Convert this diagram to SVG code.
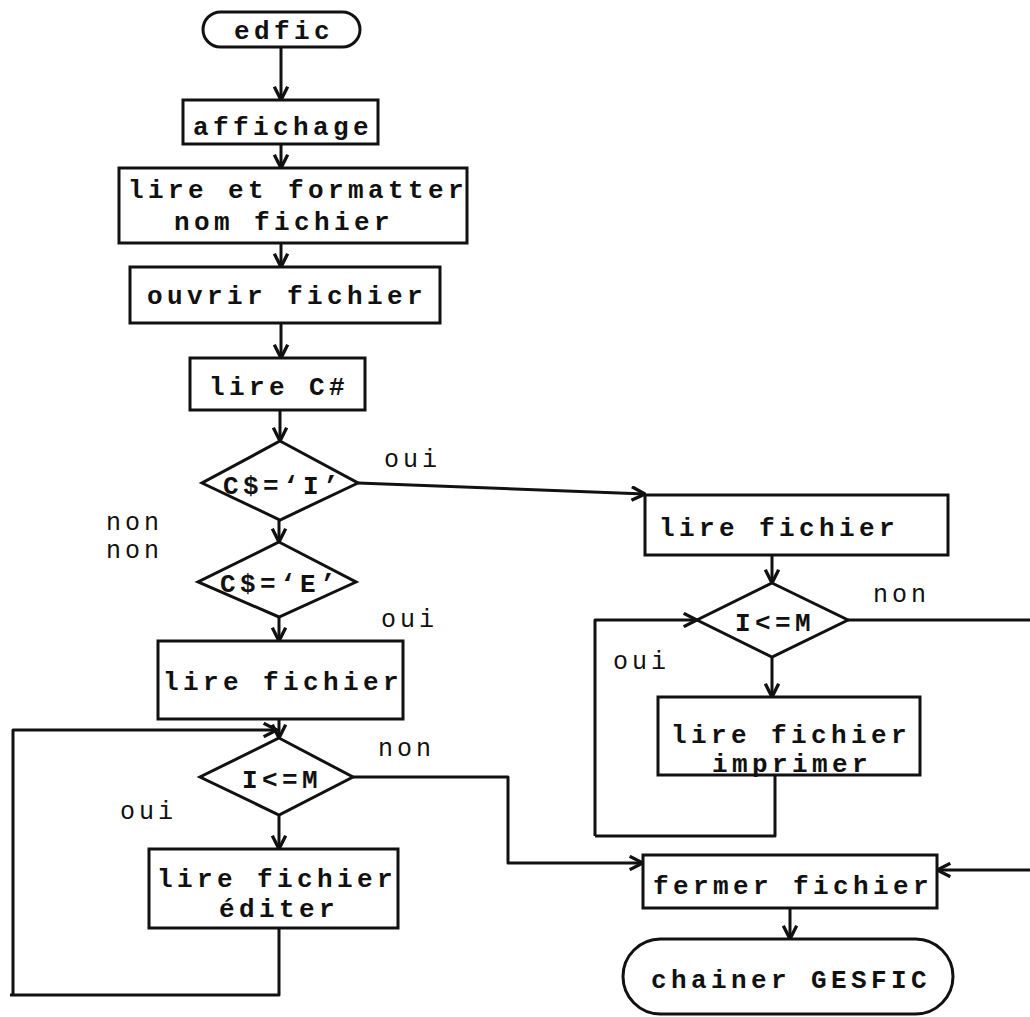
<svg xmlns="http://www.w3.org/2000/svg" width="1030" height="1017" viewBox="0 0 1030 1017">
  <style>
    .box { fill: #fff; stroke: #111; stroke-width: 3; }
    .ln { fill: none; stroke: #111; stroke-width: 3; stroke-linejoin: round; }
    .arr { marker-end: url(#head); }
    .t { font-family: "Liberation Mono", "DejaVu Sans Mono", monospace; font-size: 26px; font-weight: bold; fill: #111; letter-spacing: 4.4px; text-anchor: middle; }
    .lbl { font-family: "Liberation Mono", "DejaVu Sans Mono", monospace; font-size: 25px; fill: #111; letter-spacing: 4px; }
  </style>
  <defs>
    <marker id="head" markerUnits="userSpaceOnUse" markerWidth="16" markerHeight="16" viewBox="0 0 12 12" refX="11" refY="6" orient="auto">
      <path d="M1,1 L11,6 L1,11" fill="none" stroke="#111" stroke-width="2.5"/>
    </marker>
  </defs>
  <rect width="1030" height="1017" fill="#fff"/>

  <!-- connectors -->
  <g id="connectors">
    <path class="ln arr" d="M281,47 V100"/>
    <path class="ln arr" d="M281,144 V168"/>
    <path class="ln arr" d="M281,243 V267"/>
    <path class="ln arr" d="M281,323 V358"/>
    <path class="ln arr" d="M280,410 V441"/>
    <path class="ln arr" d="M279,520 V542"/>
    <path class="ln arr" d="M279,617 V641"/>
    <path class="ln arr" d="M279,719 V738"/>
    <path class="ln arr" d="M279,815 V849"/>
    <!-- left loop back to I<=M -->
    <path class="ln" d="M279,928 V995 H10"/>
    <path class="ln arr" d="M13,995 V730 H277"/>
    <!-- exit of left loop to fermer fichier -->
    <path class="ln arr" d="M353,777 H508 V863 H643"/>
    <!-- oui branch of C$='I' -->
    <path class="ln arr" d="M358,483 L645,494"/>
    <path class="ln arr" d="M772,555 V583"/>
    <path class="ln arr" d="M772,657 V697"/>
    <!-- right loop back to I<=M -->
    <path class="ln" d="M775,775 V836 H595"/>
    <path class="ln arr" d="M595,836 V620 H697"/>
    <!-- non branch of right I<=M, leaves the sheet -->
    <path class="ln" d="M848,620 H1030"/>
    <path class="ln arr" d="M1030,870 H937"/>
    <path class="ln arr" d="M790,908 V939"/>
  </g>

  <g id="n-edfic">
    <rect class="box" x="203" y="12" width="157" height="35" rx="17.5"/>
    <text class="t" x="284" y="39">edfic</text>
  </g>
  <g id="n-affichage">
    <rect class="box" x="183" y="100" width="195" height="44"/>
    <text class="t" x="283" y="135">affichage</text>
  </g>
  <g id="n-lire-formatter">
    <rect class="box" x="119" y="168" width="348" height="75"/>
    <text class="t" x="298" y="198">lire et formatter</text>
    <text class="t" x="284" y="230">nom fichier</text>
  </g>
  <g id="n-ouvrir">
    <rect class="box" x="130" y="267" width="310" height="56"/>
    <text class="t" x="287" y="304">ouvrir fichier</text>
  </g>
  <g id="n-lire-c">
    <rect class="box" x="190" y="358" width="175" height="52"/>
    <text class="t" x="279" y="395">lire C#</text>
  </g>
  <g id="n-test-i">
    <polygon class="box" points="280,441 358,483 280,520 202,483"/>
    <text class="t" x="283" y="494">C$=‘I’</text>
  </g>
  <g id="n-test-e">
    <polygon class="box" points="279,542 356,582 279,617 198,582"/>
    <text class="t" x="280" y="592">C$=‘E’</text>
  </g>
  <g id="n-lire-fichier-e">
    <rect class="box" x="158" y="641" width="245" height="78"/>
    <text class="t" x="283" y="690">lire fichier</text>
  </g>
  <g id="n-boucle-e">
    <polygon class="box" points="279,738 353,777 279,815 200,777"/>
    <text class="t" x="282" y="788">I&lt;=M</text>
  </g>
  <g id="n-editer">
    <rect class="box" x="149" y="849" width="249" height="79"/>
    <text class="t" x="277" y="887">lire fichier</text>
    <text class="t" x="279" y="917">éditer</text>
  </g>
  <g id="n-lire-fichier-i">
    <rect class="box" x="645" y="495" width="303" height="60"/>
    <text class="t" x="779" y="536">lire fichier</text>
  </g>
  <g id="n-boucle-i">
    <polygon class="box" points="772,583 848,620 772,657 697,620"/>
    <text class="t" x="775" y="631">I&lt;=M</text>
  </g>
  <g id="n-imprimer">
    <rect class="box" x="658" y="697" width="262" height="78"/>
    <text class="t" x="791" y="743">lire fichier</text>
    <text class="t" x="792" y="772">imprimer</text>
  </g>
  <g id="n-fermer">
    <rect class="box" x="643" y="855" width="294" height="53"/>
    <text class="t" x="793" y="894">fermer fichier</text>
  </g>
  <g id="n-chainer">
    <rect class="box" x="623" y="939" width="330" height="75" rx="37.5"/>
    <text class="t" x="791" y="988">chainer GESFIC</text>
  </g>

  <!-- branch labels -->
  <g id="labels">
    <text class="lbl" x="384" y="467">oui</text>
    <text class="lbl" x="106" y="530">non</text>
    <text class="lbl" x="106" y="558">non</text>
    <text class="lbl" x="381" y="627">oui</text>
    <text class="lbl" x="378" y="756">non</text>
    <text class="lbl" x="120" y="819">oui</text>
    <text class="lbl" x="873" y="602">non</text>
    <text class="lbl" x="613" y="669">oui</text>
  </g>
</svg>
